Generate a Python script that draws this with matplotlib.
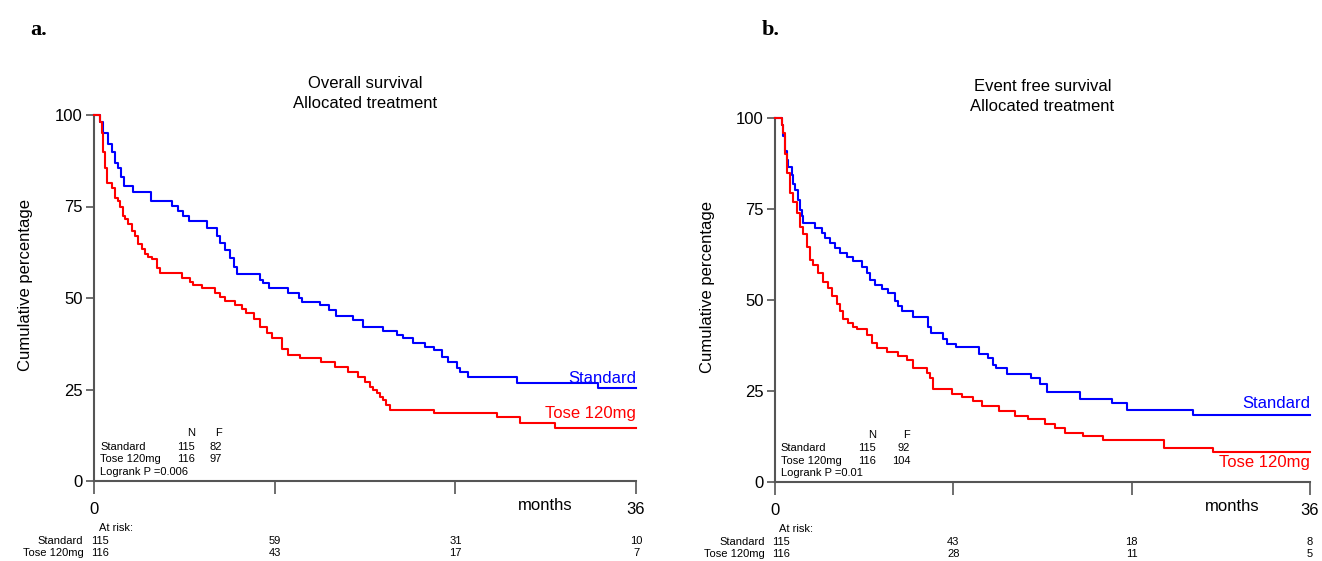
import matplotlib
matplotlib.use("Agg")
import matplotlib.pyplot as plt

plt.rcParams['font.family'] = ['Liberation Sans', 'DejaVu Sans']

# ---- data (months, cumulative %) ----
# a. overall survival
os_std_t = [0.4, 0.6, 0.9, 1.2, 1.4, 1.6, 1.8, 2.0, 2.6, 3.8, 5.2, 5.6, 5.9, 6.3,
            7.5, 8.15, 8.4, 8.7, 9.0, 9.3, 9.5, 11.0, 11.2, 11.6, 12.9, 13.6, 13.8,
            15.0, 15.6, 16.1, 17.2, 17.9, 19.2, 20.1, 20.5, 21.2, 22.0, 22.6, 23.1,
            23.5, 24.1, 24.3, 24.85, 28.1, 33.5]
os_std_s = [98, 95, 92, 90, 87, 85.5, 83, 80.6, 79, 76.6, 75.2, 73.8, 72.5, 71,
            69, 67, 65, 63, 61, 58.5, 56.6, 55, 54, 52.6, 51.5, 50, 48.8,
            48, 46.6, 45.2, 43.9, 42, 41, 39.8, 39, 37.6, 36.5, 35.7, 33.8,
            32.4, 31, 29.7, 28.3, 26.7, 25.3]
os_tose_t = [0.4, 0.5, 0.6, 0.73, 0.84, 1.17, 1.39, 1.6, 1.73, 1.95, 2.06, 2.28, 2.5,
             2.72, 2.94, 3.17, 3.39, 3.6, 3.83, 4.16, 4.38, 5.82, 6.37, 6.6, 7.15,
             8.03, 8.37, 8.7, 9.36, 9.8, 10.1, 10.6, 11.0, 11.5, 11.8, 12.5, 12.9,
             13.7, 15.1, 16.0, 16.9, 17.55, 18.0, 18.3, 18.55, 18.8, 19.0, 19.2,
             19.4, 19.65, 22.6, 26.8, 28.3, 30.6]
os_tose_s = [98, 95, 90, 85.6, 81.5, 80, 77.4, 76.6, 75, 72.5, 71.5, 70.3, 68.4,
             67, 64.8, 63.3, 62, 61.3, 60.7, 58.3, 56.9, 55.6, 54.3, 53.6, 52.6,
             51.5, 50.2, 49.3, 48, 47, 45.8, 44.3, 42, 40.4, 39, 36.2, 34.3,
             33.5, 32.4, 31.1, 29.7, 28.3, 27, 25.6, 24.8, 24, 23, 22,
             20.7, 19.3, 18.5, 17.4, 15.8, 14.4]

# b. event free survival
efs_std_t = [0.45, 0.56, 0.67, 0.78, 0.9, 1.12, 1.23, 1.35, 1.57, 1.68, 1.79, 1.9,
             2.69, 3.14, 3.36, 3.7, 4.04, 4.37, 4.82, 5.27, 5.83, 6.17, 6.39, 6.73,
             7.18, 7.63, 8.08, 8.3, 8.53, 9.31, 10.3, 10.5, 11.3, 11.55, 12.2, 13.7,
             14.35, 14.7, 14.9, 15.6, 17.2, 17.8, 18.3, 20.5, 22.7, 23.7, 28.15]
efs_std_s = [98, 95, 91, 88.5, 86.6, 84.4, 82, 80.2, 77.5, 74.7, 73, 71.1,
             69.7, 68.3, 67, 65.6, 64.2, 63, 61.8, 60.7, 59, 57.3, 55.6, 54,
             53, 51.8, 49.8, 48.4, 46.9, 45.2, 42.6, 40.8, 39.4, 38, 37, 35.3,
             34, 32.2, 31.2, 29.8, 28.7, 27, 24.8, 22.9, 21.8, 19.9, 18.5]
efs_tose_t = [0.45, 0.56, 0.67, 0.78, 1.0, 1.23, 1.46, 1.68, 1.9, 2.13, 2.36, 2.58,
              2.91, 3.25, 3.59, 3.81, 4.15, 4.37, 4.6, 4.93, 5.27, 5.5, 6.17, 6.5,
              6.84, 7.52, 8.3, 8.86, 9.31, 10.2, 10.4, 10.65, 11.9, 12.6, 13.3, 13.9,
              15.1, 16.15, 17.05, 18.2, 18.85, 19.5, 20.75, 22.1, 26.2, 29.5]
efs_tose_s = [98, 96, 90, 84.9, 79.4, 77, 73.9, 70, 68, 64.5, 61, 59.5,
              57.3, 55, 53.2, 51, 49, 47, 44.9, 43.7, 42.5, 41.9, 40.5, 38.3,
              36.7, 35.6, 34.7, 33.4, 31.4, 30, 28.5, 25.6, 24.3, 23.3, 22.3, 21,
              19.6, 18.2, 17.2, 16, 14.9, 13.5, 12.7, 11.6, 9.4, 8.3]

groups = ["Standard", "Tose 120mg"]
os_nf = [(115, 82), (116, 97)]
efs_nf = [(115, 92), (116, 104)]
os_p = "Logrank P =0.006"
efs_p = "Logrank P =0.01"
risk_times = [0, 12, 24, 36]
os_risk = [[115, 59, 31, 10], [116, 43, 17, 7]]
efs_risk = [[115, 43, 18, 8], [116, 28, 11, 5]]

BLUE = "#0000ff"
RED = "#ff0000"
AXC = "#555555"

fig = plt.figure(figsize=(13.22, 5.61), dpi=100)
W, H = 1322, 561


def km(t, s, end=36):
    return [0] + t + [end], [100] + s + [s[-1]]


def panel(rect, title, curves, nf, ptxt, risk, lbl_y, letter, letter_x, title_y,
          months_x, nf_x):
    x0, x1, y0, y1 = rect
    ax = fig.add_axes([x0 / W, 1 - y0 / H, (x1 - x0) / W, (y0 - y1) / H])
    for (t, s), c in zip(curves, [BLUE, RED]):
        xs, ys = km(t, s)
        ax.step(xs, ys, where='post', color=c, lw=1.5, clip_on=False, zorder=3)
    ax.set_xlim(0, 36)
    ax.set_ylim(0, 100)
    for sp in ['top', 'right']:
        ax.spines[sp].set_visible(False)
    for sp in ['left', 'bottom']:
        ax.spines[sp].set_color(AXC)
        ax.spines[sp].set_linewidth(1.5)
    ax.set_yticks([0, 25, 50, 75, 100])
    ax.set_xticks(risk_times)
    ax.set_xticklabels(['0', '', '', '36'])
    ax.tick_params(axis='y', length=6, width=1.2, color=AXC, labelsize=12, pad=2)
    ax.tick_params(axis='x', length=9, width=1.2, color=AXC, labelsize=12, pad=6)
    ax.set_ylabel("Cumulative percentage", fontsize=12)
    ax.yaxis.set_label_coords(-0.113, 0.535)
    ax.text(0.5, title_y, title, transform=ax.transAxes, ha='center', va='bottom',
            fontsize=12, linespacing=1.45)
    tr = ax.get_xaxis_transform()
    ax.text(months_x, -0.067, "months", transform=tr, ha='center', va='center', fontsize=12)
    # legend labels at line ends
    ax.text(36, lbl_y[0], groups[0], color=BLUE, ha='right', va='bottom', fontsize=12)
    ax.text(36, lbl_y[1], groups[1], color=RED, ha='right', va='top', fontsize=12)
    # N / F table
    fs = 8
    rows_y = [13.0, 9.4, 5.9, 2.4]
    ax.text(nf_x[1], rows_y[0], "N", ha='right', va='center', fontsize=fs)
    ax.text(nf_x[2], rows_y[0], "F", ha='right', va='center', fontsize=fs)
    for i, g in enumerate(groups):
        ax.text(nf_x[0], rows_y[i + 1], g, ha='left', va='center', fontsize=fs)
        ax.text(nf_x[1], rows_y[i + 1], str(nf[i][0]), ha='right', va='center', fontsize=fs)
        ax.text(nf_x[2], rows_y[i + 1], str(nf[i][1]), ha='right', va='center', fontsize=fs)
    ax.text(nf_x[0], rows_y[3], ptxt, ha='left', va='center', fontsize=fs)
    # at risk table
    ax.text(0.3, -0.128, "At risk:", transform=tr, ha='left', va='center', fontsize=fs)
    for i, g in enumerate(groups):
        yy = -0.164 - 0.034 * i
        ax.text(-0.7, yy, g, transform=tr, ha='right', va='center', fontsize=fs)
        for j, (tt, n) in enumerate(zip(risk_times, risk[i])):
            ax.text(tt if j else -0.2, yy, str(n), transform=tr,
                    ha='left' if j == 0 else 'center', va='center', fontsize=fs)
    fig.text(letter_x / W, 1 - 30 / H, letter, fontsize=16, fontweight='bold',
             family=['Liberation Serif', 'DejaVu Serif'], ha='left', va='center')
    return ax


panel((94, 636, 481, 115), "Overall survival\nAllocated treatment",
      [(os_std_t, os_std_s), (os_tose_t, os_tose_s)], os_nf, os_p, os_risk,
      (26.0, 20.5), "a.", 30, 1.01, 30.0, (0.4, 6.7, 8.5))
panel((775, 1310, 482, 118), "Event free survival\nAllocated treatment",
      [(efs_std_t, efs_std_s), (efs_tose_t, efs_tose_s)], efs_nf, efs_p, efs_risk,
      (19.5, 7.5), "b.", 762, 1.01, 30.8, (0.4, 6.8, 9.1))

fig.savefig("out.png", dpi=100, facecolor='white')
